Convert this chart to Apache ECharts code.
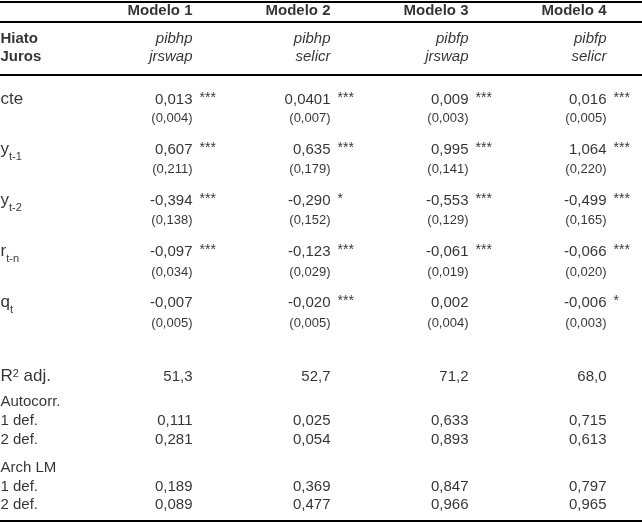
<!DOCTYPE html>
<html>
<head>
<meta charset="utf-8">
<script src="https://cdn.jsdelivr.net/npm/echarts@6/dist/echarts.min.js"></script>
<style>
  html, body { margin: 0; padding: 0; background: #fff; }
  #chart { width: 642px; height: 525px; }
</style>
</head>
<body>
<div id="chart"></div>
<script>
// table contents
const models = ['Modelo 1', 'Modelo 2', 'Modelo 3', 'Modelo 4']
const hiato = ['pibhp', 'pibhp', 'pibfp', 'pibfp']
const juros = ['jrswap', 'selicr', 'jrswap', 'selicr']

const varLabels = ['{b|cte}', '{b|y}{s|t-1}', '{b|y}{s|t-2}', '{b|r}{s|t-n}', '{b|q}{s|t}']
const cte = [0.013, 0.0401, 0.009, 0.016]
const cteSE = [0.004, 0.007, 0.003, 0.005]
const cteSig = ['***', '***', '***', '***']
const yt1 = [0.607, 0.635, 0.995, 1.064]
const yt1SE = [0.211, 0.179, 0.141, 0.220]
const yt1Sig = ['***', '***', '***', '***']
const yt2 = [-0.394, -0.290, -0.553, -0.499]
const yt2SE = [0.138, 0.152, 0.129, 0.165]
const yt2Sig = ['***', '*', '***', '***']
const rtn = [-0.097, -0.123, -0.061, -0.066]
const rtnSE = [0.034, 0.029, 0.019, 0.020]
const rtnSig = ['***', '***', '***', '***']
const qt = [-0.007, -0.020, 0.002, -0.006]
const qtSE = [0.005, 0.005, 0.004, 0.003]
const qtSig = ['', '***', '', '*']

const r2adj = [51.3, 52.7, 71.2, 68.0]
const autocorr1 = [0.111, 0.025, 0.633, 0.715]
const autocorr2 = [0.281, 0.054, 0.893, 0.613]
const archLM1 = [0.189, 0.369, 0.847, 0.797]
const archLM2 = [0.089, 0.477, 0.966, 0.965]

// layout (pixels)
const W = 642, H = 525
const colRight = [193, 331, 469, 607]
const stubX = 1
const starGap = 7
const coefY = [100, 150, 201, 252, 303]
const seY = [119, 170, 221, 273, 324]
const rules = [1.5, 21.5, 75, 521]

// number formatting, decimal comma
function decimals(v) {
  const s = String(Math.abs(v))
  return s.indexOf('.') < 0 ? 0 : s.length - s.indexOf('.') - 1
}
function fmt(v, d) {
  return v.toFixed(Math.max(d, decimals(v))).replace('.', ',')
}

const coefRows = [cte, yt1, yt2, rtn, qt]
const seRows = [cteSE, yt1SE, yt2SE, rtnSE, qtSE]
const sigRows = [cteSig, yt1Sig, yt2Sig, rtnSig, qtSig]

const headerData = models.map((m, i) => [colRight[i], 11, m])
const specData = []
hiato.forEach((h, i) => specData.push([colRight[i], 39, h]))
juros.forEach((j, i) => specData.push([colRight[i], 57, j]))
const stubBoldData = [[stubX, 39, 'Hiato'], [stubX, 57, 'Juros']]
const stubData = varLabels.map((l, r) => [stubX, coefY[r], l])
stubData.push([stubX, 377, '{b|R}{sup|2}{b| adj.}'])

const coefData = [], seData = [], sigData = []
coefRows.forEach((row, r) => {
  row.forEach((v, i) => {
    coefData.push([colRight[i], coefY[r], fmt(v, 3)])
    seData.push([colRight[i], seY[r], '(' + fmt(seRows[r][i], 3) + ')'])
    if (sigRows[r][i]) sigData.push([colRight[i] + starGap, coefY[r] - 1, sigRows[r][i]])
  })
})

const bottomRows = [
  { y: 377, vals: r2adj, d: 1 },
  { y: 421, vals: autocorr1, d: 3 },
  { y: 440, vals: autocorr2, d: 3 },
  { y: 487, vals: archLM1, d: 3 },
  { y: 505, vals: archLM2, d: 3 }
]
bottomRows.forEach(b => {
  b.vals.forEach((v, i) => coefData.push([colRight[i], b.y, fmt(v, b.d)]))
})
const bottomLabelData = [
  [stubX, 402, 'Autocorr.'], [stubX, 421, '1 def.'], [stubX, 440, '2 def.'],
  [stubX, 468, 'Arch LM'], [stubX, 487, '1 def.'], [stubX, 505, '2 def.']
]

const font = "'Liberation Sans', Arial, Helvetica, sans-serif"
const ink = '#000'
function textSeries(name, data, label) {
  return {
    name: name,
    type: 'scatter',
    data: data,
    symbolSize: 1,
    silent: true,
    itemStyle: { color: 'rgba(0,0,0,0)' },
    label: Object.assign({
      show: true,
      position: [0, 0],
      verticalAlign: 'middle',
      color: ink,
      fontFamily: font,
      fontSize: 15,
      formatter: p => p.value[2]
    }, label)
  }
}

const chart = echarts.init(document.getElementById('chart'))
chart.setOption({
  animation: false,
  backgroundColor: '#fff',
  grid: { left: 0, right: 0, top: 0, bottom: 0 },
  xAxis: { type: 'value', min: 0, max: W, show: false },
  yAxis: { type: 'value', min: 0, max: H, inverse: true, show: false },
  series: [
    textSeries('header', headerData, { align: 'right', fontWeight: 'bold' }),
    textSeries('spec', specData, { align: 'right', fontStyle: 'italic' }),
    textSeries('stubBold', stubBoldData, { align: 'left', fontWeight: 'bold' }),
    textSeries('stub', stubData, {
      align: 'left',
      offset: [0, 2],
      rich: {
        b: { fontSize: 17, fontFamily: font, color: ink, verticalAlign: 'bottom', padding: [0, 0, 4, 0] },
        s: { fontSize: 11, fontFamily: font, color: ink, verticalAlign: 'bottom' },
        sup: { fontSize: 11, fontFamily: font, color: ink, verticalAlign: 'top' }
      }
    }),
    textSeries('coef', coefData, { align: 'right' }),
    textSeries('se', seData, { align: 'right', fontSize: 13 }),
    textSeries('sig', sigData, { align: 'left', fontSize: 14 }),
    textSeries('bottomLabels', bottomLabelData, { align: 'left' }),
    {
      name: 'rules',
      type: 'line',
      data: [],
      markLine: {
        silent: true,
        symbol: 'none',
        label: { show: false },
        lineStyle: { color: ink, width: 2, type: 'solid' },
        data: rules.map(y => ({ yAxis: y }))
      }
    }
  ]
})
</script>
</body>
</html>
